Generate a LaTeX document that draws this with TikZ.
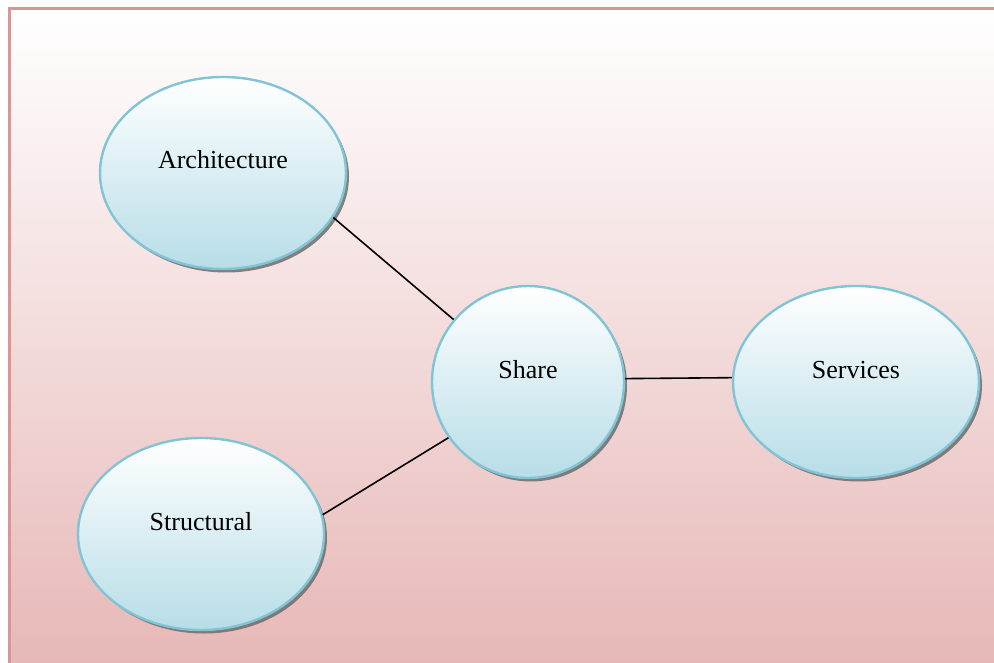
\documentclass[tikz,border=0pt]{standalone}
\usepackage{fontspec}
\setmainfont{Liberation Serif}
\usepackage{tikz}
\usetikzlibrary{shapes.geometric,shadows}
\definecolor{bgpink}{RGB}{230,183,182}
\definecolor{framepink}{RGB}{217,150,148}
\definecolor{bubline}{RGB}{128,196,214}
\definecolor{bubfill}{RGB}{183,221,231}

\begin{document}
\begin{tikzpicture}[x=1pt, y=-1pt,
    bub/.style={ellipse, draw=bubline, line width=2.4pt, top color=white, bottom color=bubfill,
                minimum width=246pt, minimum height=192pt, inner sep=0pt,
                text height=18pt, text depth=26pt, font=\fontsize{26}{30}\selectfont,
                drop shadow={shadow xshift=3pt, shadow yshift=-3.5pt, fill=black!60, opacity=.8}},
    ln/.style={line width=1.6pt, black}]
    \useasboundingbox (0,0) rectangle (994,663);
    \clip (0,0) rectangle (994,663);
    % background panel
    \fill[top color=white, bottom color=bgpink] (9,9) rectangle (1005,675);
    \draw[framepink, line width=3pt] (9,675) -- (9,9) -- (1005,9);
    \node[bub] (arch) at (223,173) {Architecture};
    \node[bub, minimum width=192pt] (share) at (528,382) {Share};
    \node[bub] (serv) at (856,382) {Services};
    \node[bub] (struct) at (201,534) {Structural};
    \draw[ln] (arch.-22) -- (share.140);
    \draw[ln] (struct.9) -- (share.215);
    \draw[ln] (share.2) -- (serv.178);
  \end{tikzpicture}
\end{document}
